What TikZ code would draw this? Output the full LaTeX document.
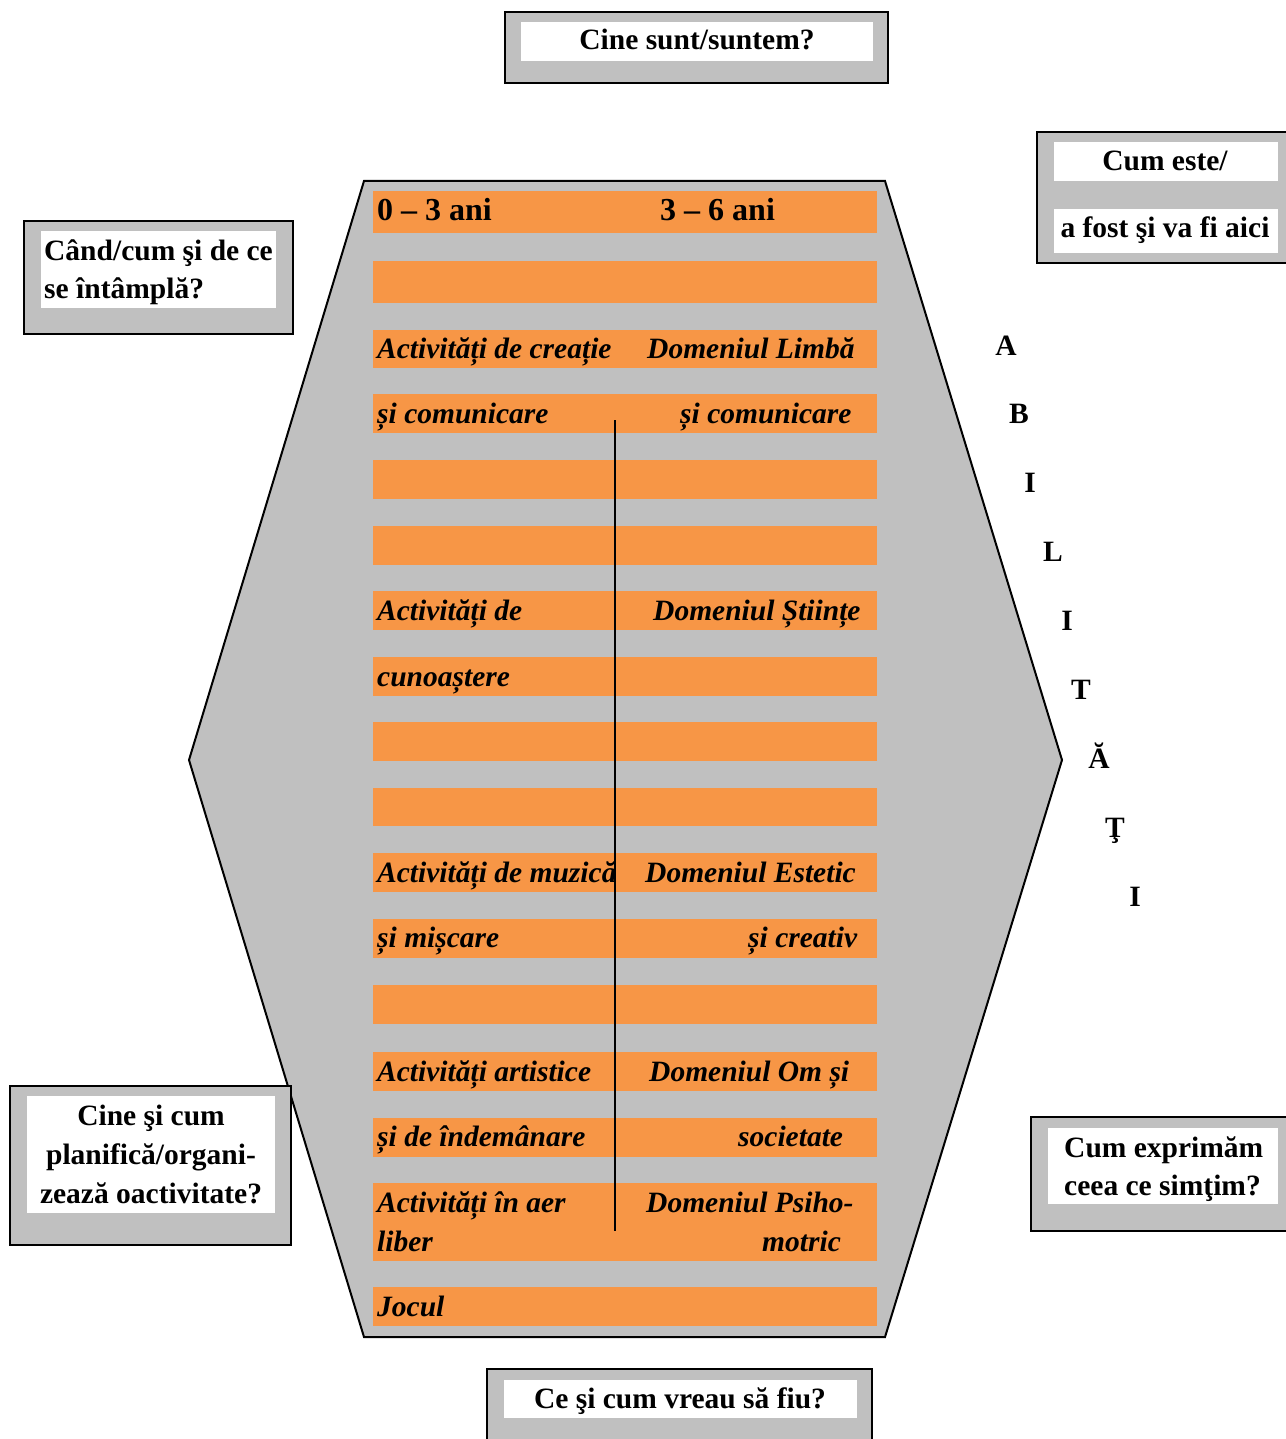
\documentclass[tikz,border=0pt]{standalone}
\usepackage{fontspec}
\setmainfont{Liberation Serif}
\definecolor{hexgray}{HTML}{C0C0C0}
\definecolor{barorange}{HTML}{F79646}
\tikzset{
  outerbox/.style={draw=black,line width=2pt,fill=hexgray},
  innerbox/.style={fill=white},
  bar/.style={fill=barorange},
  txt/.style={font=\fontsize{29.5}{35}\selectfont\bfseries,inner sep=0pt,text height=22pt,text depth=4pt},
  lt/.style={txt,font=\fontsize{29.5}{35}\selectfont\bfseries\itshape,anchor=west},
  agetxt/.style={txt,font=\fontsize{32}{38}\selectfont\bfseries,anchor=west},
}

\begin{document}
\begin{tikzpicture}[x=1pt,y=-1pt]
  \useasboundingbox (0,0) rectangle (1285,1439);
  \coordinate (TL) at (364,181);
  \coordinate (TR) at (885,181);
  \coordinate (R) at (1062,760);
  \coordinate (BR) at (885,1337);
  \coordinate (BL) at (364,1337);
  \coordinate (L) at (189,760);
\draw[line width=2pt,fill=hexgray] (TL)--(TR)--(R)--(BR)--(BL)--(L)--cycle;
% orange rows
\foreach \t/\b in {191/233,261/303,330/368,394/433,460/499,526/565,591/630,657/696,722/761,788/826,853/892,919/958,985/1024,1052/1091,1118/1157,1183/1261,1287/1326}
  \fill[bar] (373,\t) rectangle (877,\b);
  \coordinate (vtop) at (615,420);
  \coordinate (vbot) at (615,1231);
\draw[line width=1.5pt] (vtop)--(vbot);
% row texts
\node[agetxt] (age1) at (377,212) {0 – 3 ani};
\node[agetxt] (age2) at (660,212) {3 – 6 ani};
\node[lt] (c1) at (377,349) {Activități de creație};
\node[lt] (d1) at (647,349) {Domeniul Limbă};
\node[lt] (c2) at (377,414) {și comunicare};
\node[lt] (d2) at (680,414) {și comunicare};
\node[lt] (c3) at (377,611) {Activități de};
\node[lt] (d3) at (653,611) {Domeniul Științe};
\node[lt] (c4) at (377,677) {cunoaștere};
\node[lt] (c5) at (377,873) {Activități de muzică};
\node[lt] (d5) at (645,873) {Domeniul Estetic};
\node[lt] (c6) at (377,938) {și mișcare};
\node[lt] (d6) at (748,938) {și creativ};
\node[lt] (c7) at (377,1072) {Activități artistice};
\node[lt] (d7) at (649,1072) {Domeniul Om și};
\node[lt] (c8) at (377,1137) {și de îndemânare};
\node[lt] (d8) at (738,1137) {societate};
\node[lt] (c9) at (377,1203) {Activități în aer};
\node[lt] (c9b) at (377,1242) {liber};
\node[lt] (d9) at (646,1203) {Domeniul Psiho-};
\node[lt] (d9b) at (762,1242) {motric};
\node[lt] (c10) at (377,1307) {Jocul};
% vertical word
\foreach \x/\y/\c [count=\i] in {1006/346/A,1019/414/B,1030/483/I,1053/552/L,1067/621/I,1081/690/T,1099/759/Ă,1115/828/Ţ,1135/897/I}
  \node[txt] (let\i) at (\x,\y) {\c};
% question boxes
\draw[outerbox] (505,12) rectangle (888,83);
\fill[innerbox] (521,22) rectangle (873,61);
\node[txt] (who) at (697,41) {Cine sunt/suntem?};
\draw[outerbox] (1037,132) rectangle (1295,263);
\fill[innerbox] (1054,142) rectangle (1278,181);
\fill[innerbox] (1054,209) rectangle (1278,253);
\node[txt] (how1) at (1165,162) {Cum este/};
\node[txt] (how2) at (1165,229) {a fost şi va fi aici};
\draw[outerbox] (24,221) rectangle (293,334);
\fill[innerbox] (41,231) rectangle (276,308);
\node[txt,anchor=west] (when1) at (44,251) {Când/cum şi de ce};
\node[txt,anchor=west] (when2) at (44,289) {se întâmplă?};
\draw[outerbox] (10,1086) rectangle (291,1245);
\fill[innerbox] (27,1096) rectangle (275,1213);
\node[txt] (plan1) at (151,1116) {Cine şi cum};
\node[txt] (plan2) at (151,1155) {planifică/organi-};
\node[txt] (plan3) at (151,1194) {zează oactivitate?};
\draw[outerbox] (1031,1117) rectangle (1295,1231);
\fill[innerbox] (1048,1128) rectangle (1278,1204);
\node[txt,anchor=west] (feel1) at (1064,1148) {Cum exprimăm};
\node[txt,anchor=west] (feel2) at (1064,1186) {ceea ce simţim?};
\draw[outerbox] (487,1369) rectangle (872,1450);
\fill[innerbox] (504,1380) rectangle (857,1418);
\node[txt] (be) at (680,1399) {Ce şi cum vreau să fiu?};
\end{tikzpicture}
\end{document}
